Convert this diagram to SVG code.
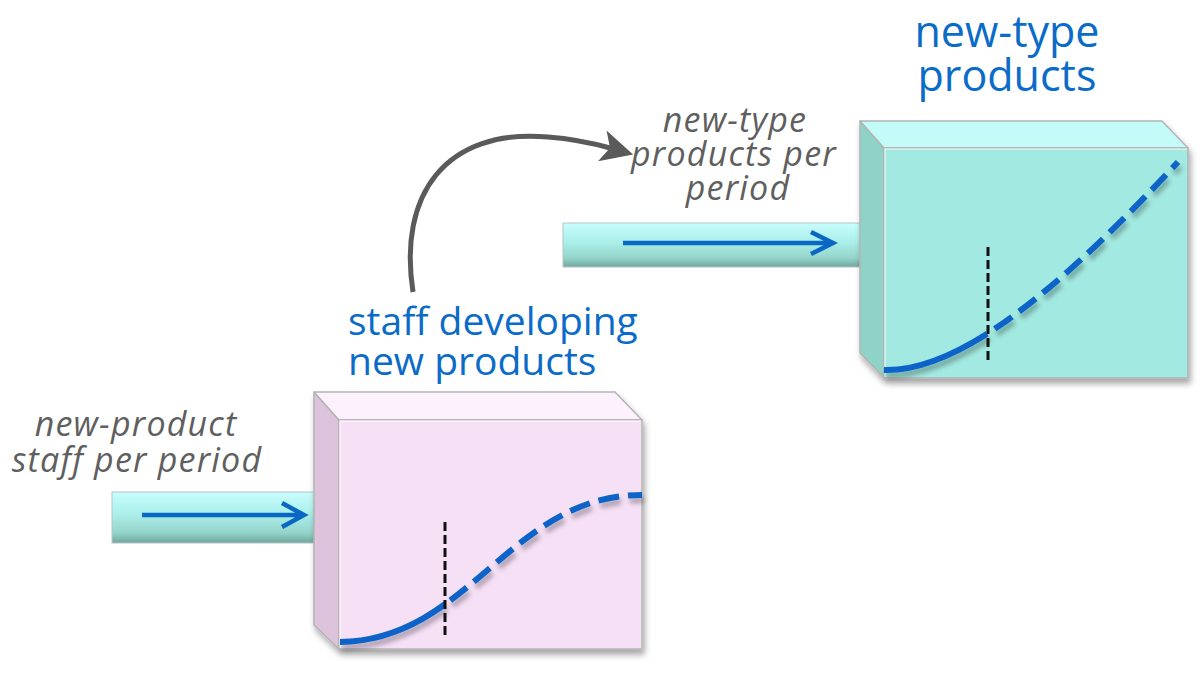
<svg xmlns="http://www.w3.org/2000/svg" width="1200" height="675" viewBox="0 0 1200 675">
<style>
.title{font-family:"Open Sans","Liberation Sans",sans-serif;fill:#0a6bc8;}
.lbl{font-family:"Open Sans","Liberation Sans",sans-serif;font-style:italic;fill:#5f5f5f;font-size:34px;letter-spacing:1.2px;}
.edge{stroke:#b4b4b4;stroke-width:1.5;stroke-linejoin:round;}
.pipe{fill:url(#pipeGrad);stroke:#b8c4c4;stroke-width:1;}
.flow{fill:none;stroke:#0a68c4;stroke-width:4.5;stroke-linecap:butt;stroke-linejoin:miter;}
.curve{fill:none;stroke:#0a64c8;stroke-width:6;}
.dash{stroke-dasharray:21 9;}
.marker{fill:none;stroke:#111;stroke-width:3;stroke-dasharray:9 4;}
.link{fill:none;stroke:#5a5a5a;stroke-width:5;}
</style>
<defs>
<linearGradient id="pipeGrad" x1="0" y1="0" x2="0" y2="1">
<stop offset="0" stop-color="#c8fefe"/>
<stop offset="0.45" stop-color="#aaeee8"/>
<stop offset="0.8" stop-color="#94d4ca"/>
<stop offset="1" stop-color="#6ea69c"/>
</linearGradient>
<filter id="shadow" x="-10%" y="-10%" width="130%" height="130%">
<feDropShadow dx="2" dy="5" stdDeviation="3" flood-color="#000" flood-opacity="0.35"/>
</filter>
<filter id="cshadow" x="-10%" y="-20%" width="130%" height="150%">
<feDropShadow dx="2" dy="5" stdDeviation="2.5" flood-color="#000" flood-opacity="0.3"/>
</filter>
<marker id="head" viewBox="0 0 34 32" refX="10" refY="16" markerWidth="34" markerHeight="32" markerUnits="userSpaceOnUse" orient="auto">
<path d="M2,0 L34,16 L2,32 L10,16 z" fill="#5a5a5a"/>
</marker>
<clipPath id="pinkSolid"><rect x="330" y="400" width="115" height="260"/></clipPath>
<clipPath id="pinkDash"><rect x="445" y="400" width="210" height="260"/></clipPath>
<clipPath id="tealSolid"><rect x="875" y="130" width="111" height="260"/></clipPath>
<clipPath id="tealDash"><rect x="986" y="130" width="210" height="260"/></clipPath>
</defs>
<rect width="1200" height="675" fill="#fff"/>

<g id="inflow-staff">
<rect class="pipe" x="112" y="492" width="215" height="51"/>
<path class="flow" d="M142 515 H302 M282 503 L304 515 L282 527"/>
</g>

<g id="inflow-products">
<rect class="pipe" x="563" y="223" width="312" height="44"/>
<path class="flow" d="M623 243 H831 M811 232 L833 243 L811 254"/>
</g>

<g id="stock-staff">
<g filter="url(#shadow)">
<polygon class="edge" points="314,392 339,420 339,649 314,625" fill="#dcc2da"/>
<polygon class="edge" points="314,392 615,392 642,420 339,420" fill="#fcf1fc"/>
<rect class="edge" x="339" y="420" width="303" height="229" fill="#f6e0f6"/>
</g>
<path d="M340 648 V421 H641" fill="none" stroke="#fff" stroke-width="1.5" opacity="0.7"/>
<g filter="url(#cshadow)">
<path class="curve" clip-path="url(#pinkSolid)" d="M340 642 C470 640 510 495 642 495"/>
<path class="curve dash" clip-path="url(#pinkDash)" d="M340 642 C470 640 510 495 642 495"/>
</g>
<line class="marker" x1="445" y1="522" x2="445" y2="638"/>
<text class="title" font-size="39" x="348" y="335">staff developing</text>
<text class="title" font-size="39" x="348" y="375">new products</text>
</g>

<g id="stock-products">
<g filter="url(#shadow)">
<polygon class="edge" points="860,121 884,148 884,378 860,353" fill="#8fd2c8"/>
<polygon class="edge" points="860,121 1162,121 1188,148 884,148" fill="#c2fbf7"/>
<rect class="edge" x="884" y="148" width="304" height="230" fill="#a2eae1"/>
</g>
<path d="M885 377 V149 H1187" fill="none" stroke="#fff" stroke-width="1.5" opacity="0.6"/>
<g filter="url(#cshadow)">
<path class="curve" clip-path="url(#tealSolid)" d="M884 370 C955 372 1050 300 1178 162"/>
<path class="curve dash" clip-path="url(#tealDash)" d="M884 370 C955 372 1050 300 1178 162"/>
</g>
<line class="marker" x1="988" y1="247" x2="988" y2="363"/>
<text class="title" font-size="43" text-anchor="middle" x="1007" y="47">new-type</text>
<text class="title" font-size="43" text-anchor="middle" x="1007" y="91">products</text>
</g>

<g id="labels">
<text class="lbl" text-anchor="middle" x="136" y="436">new-product</text>
<text class="lbl" text-anchor="middle" x="137" y="472">staff per period</text>
<text class="lbl" text-anchor="middle" x="735" y="132">new-type</text>
<text class="lbl" text-anchor="middle" x="734" y="166">products per</text>
<text class="lbl" text-anchor="middle" x="738" y="200">period</text>
</g>

<g id="connectors">
<path class="link" marker-end="url(#head)" d="M413 292 C398 195 445 128 548 137 C574 139 592 143 610 148"/>
</g>
</svg>
